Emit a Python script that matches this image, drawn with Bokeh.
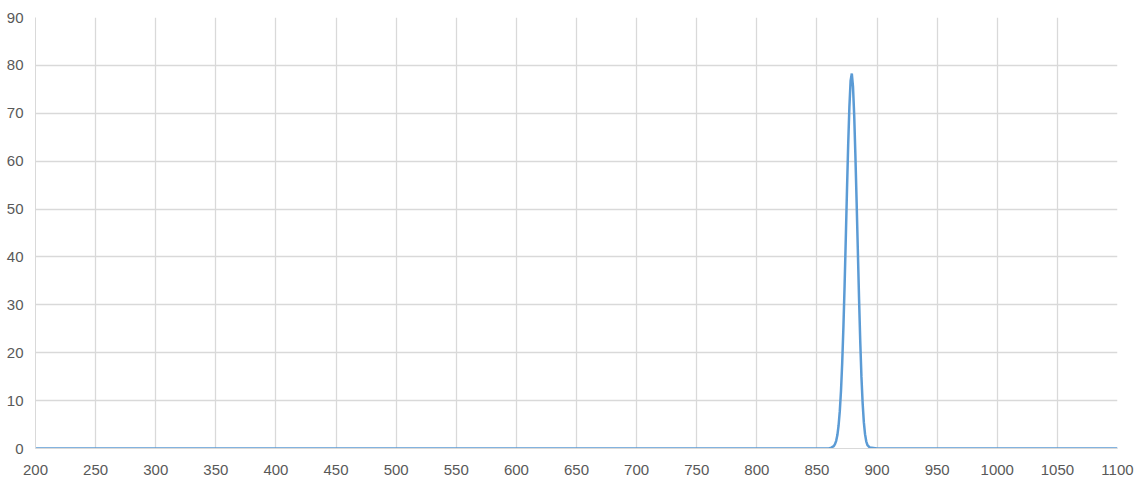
from bokeh.plotting import figure
from bokeh.models import FixedTicker, Range1d
from bokeh.embed import file_html
from bokeh.resources import INLINE

# Wavelength (nm) and transmission (%)
baseline_nm = [200, 250, 300, 350, 400, 450, 500, 550, 600, 650, 700, 750, 800, 830, 850, 860]
baseline_val = [0.0] * len(baseline_nm)

peak_nm = [862, 864, 865, 866, 867, 868, 869, 870, 871, 872, 873, 874, 875, 876, 877, 878,
           879, 880, 881, 882, 883, 884, 885, 886, 887, 888, 889, 890, 891, 892, 894]
peak_val = [0.2, 0.5, 0.9, 1.6, 2.8, 4.8, 7.8, 12.0, 17.8, 25.2, 34.0, 43.9, 54.1, 63.6, 71.4, 76.8,
            78.3, 75.5, 69.5, 61.0, 51.5, 41.5, 31.5, 22.5, 15.0, 9.5, 5.5, 3.0, 1.5, 0.7, 0.2]

tail_nm = [900, 950, 1000, 1050, 1100]
tail_val = [0.0, 0.0, 0.0, 0.0, 0.0]

x = baseline_nm + peak_nm + tail_nm
y = baseline_val + peak_val + tail_val

x_ticks = list(range(200, 1101, 50))
y_ticks = list(range(0, 91, 10))

p = figure(width=1142, height=482, output_backend="svg", toolbar_location=None,
           x_range=Range1d(200, 1100), y_range=Range1d(0, 90),
           min_border_left=35, min_border_right=25, min_border_top=17, min_border_bottom=34)

p.line(x, y, line_color="#5B9BD5", line_width=2.5)

p.outline_line_color = None
p.background_fill_color = "white"
p.border_fill_color = "white"

for ax in (p.xaxis, p.yaxis):
    ax.axis_line_color = "#D9D9D9"
    ax.axis_line_width = 1
    ax.major_tick_line_color = None
    ax.minor_tick_line_color = None
    ax.major_tick_out = 0
    ax.major_tick_in = 0
    ax.major_label_text_font = "Liberation Sans"
    ax.major_label_text_font_size = "15px"
    ax.major_label_text_color = "#595959"

p.xaxis.ticker = FixedTicker(ticks=x_ticks)
p.yaxis.ticker = FixedTicker(ticks=y_ticks)
p.xaxis.major_label_standoff = 16
p.yaxis.major_label_standoff = 12

p.xgrid.ticker = FixedTicker(ticks=x_ticks)
p.ygrid.ticker = FixedTicker(ticks=y_ticks)
p.xgrid.grid_line_color = "#D9D9D9"
p.ygrid.grid_line_color = "#D9D9D9"
p.xgrid.grid_line_width = 1.3
p.ygrid.grid_line_width = 1.3

open("out.html", "w").write(file_html(p, INLINE))
